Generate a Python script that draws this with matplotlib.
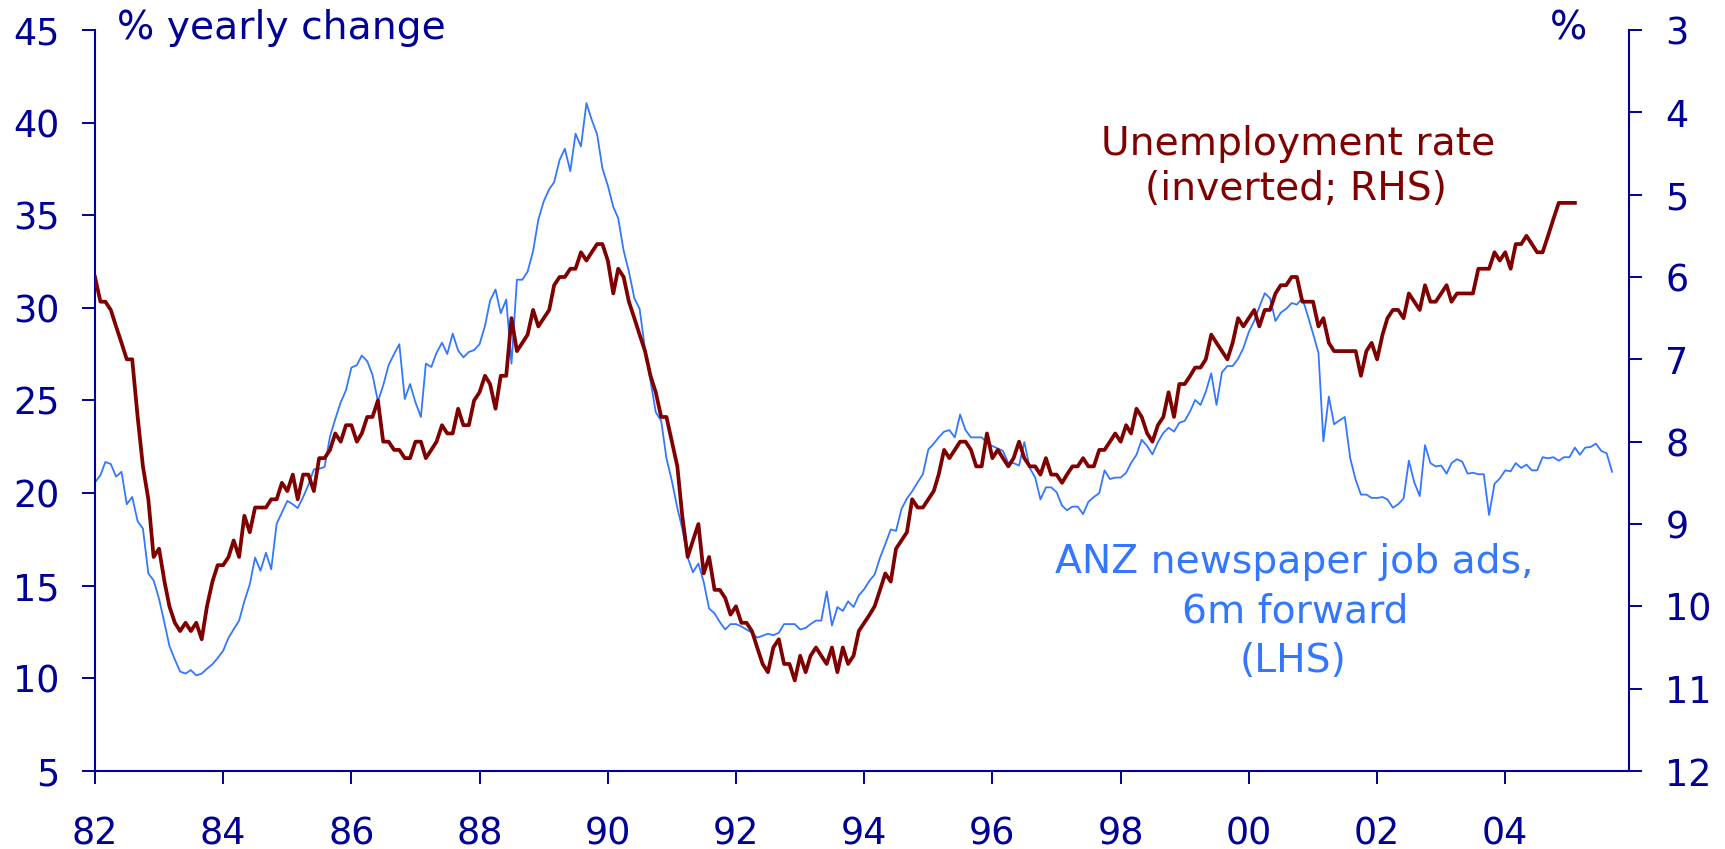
import numpy as np
import pandas as pd
import matplotlib
matplotlib.use("Agg")
import matplotlib.pyplot as plt
import matplotlib.dates as mdates

# ANZ newspaper job ads, % yearly change, 6m forward (LHS), monthly from Jan 1982
job_ads = [
    20.58, 20.97, 21.68, 21.57, 20.89, 21.15, 19.40, 19.79, 18.48, 18.09, 15.66, 15.29,
    14.29, 12.98, 11.75, 11.02, 10.37, 10.26, 10.45, 10.16, 10.26, 10.52, 10.76, 11.10,
    11.49, 12.20, 12.64, 13.12, 14.16, 15.08, 16.52, 15.81, 16.78, 15.89, 18.35, 18.95,
    19.58, 19.40, 19.19, 19.79, 20.45, 21.28, 21.31, 21.41, 23.06, 24.00, 24.90, 25.55,
    26.78, 26.91, 27.43, 27.12, 26.39, 24.95, 25.81, 26.91, 27.51, 28.04, 25.08, 25.89,
    24.90, 24.11, 26.99, 26.81, 27.57, 28.12, 27.51, 28.61, 27.70, 27.33, 27.62, 27.72,
    28.04, 29.03, 30.39, 30.99, 29.71, 30.45, 26.99, 31.52, 31.52, 31.96, 33.06, 34.76,
    35.76, 36.41, 36.78, 37.98, 38.59, 37.38, 39.40, 38.72, 41.05, 40.16, 39.37, 37.54,
    36.60, 35.45, 34.84, 33.09, 31.96, 30.52, 29.95, 27.77, 26.07, 24.37, 23.90, 21.88,
    20.65, 19.20, 18.09, 16.52, 15.73, 16.20, 15.21, 13.77, 13.51, 13.04, 12.64, 12.93,
    12.93, 12.80, 12.64, 12.46, 12.20, 12.30, 12.41, 12.33, 12.46, 12.93, 12.93, 12.93,
    12.64, 12.72, 12.93, 13.12, 13.12, 14.69, 12.85, 13.85, 13.64, 14.16, 13.85, 14.48,
    14.82, 15.29, 15.60, 16.52, 17.25, 18.04, 17.96, 19.14, 19.71, 20.10, 20.58, 21.02,
    22.36, 22.67, 23.01, 23.32, 23.40, 23.01, 24.24, 23.40, 23.01, 23.01, 23.01, 22.72,
    22.54, 22.41, 22.28, 21.62, 21.62, 21.49, 22.75, 21.36, 20.84, 19.66, 20.31, 20.31,
    20.05, 19.32, 19.08, 19.27, 19.27, 18.87, 19.53, 19.79, 20.00, 21.23, 20.76, 20.84,
    20.84, 21.10, 21.62, 22.07, 22.88, 22.54, 22.09, 22.75, 23.25, 23.53, 23.32, 23.80,
    23.90, 24.42, 25.03, 24.76, 25.47, 26.47, 24.76, 26.52, 26.86, 26.86, 27.25, 27.83,
    28.70, 29.30, 30.05, 30.79, 30.52, 29.29, 29.74, 29.95, 30.26, 30.18, 30.52, 29.61,
    28.61, 27.57, 22.80, 25.21, 23.72, 23.93, 24.11, 21.88, 20.71, 19.92, 19.92, 19.74,
    19.74, 19.79, 19.66, 19.21, 19.40, 19.71, 21.75, 20.58, 19.84, 22.59, 21.62, 21.44,
    21.49, 21.05, 21.62, 21.83, 21.70, 21.05, 21.10, 21.02, 21.02, 18.82, 20.50, 20.79,
    21.23, 21.18, 21.62, 21.36, 21.54, 21.23, 21.23, 21.94, 21.88, 21.94, 21.75, 21.94,
    21.94, 22.46, 22.07, 22.46, 22.49, 22.67, 22.28, 22.15, 21.15,
]

# Unemployment rate, % (RHS, inverted), monthly from Jan 1982
unemployment = [
    6.0, 6.3, 6.3, 6.4, 6.6, 6.8, 7.0, 7.0, 7.7, 8.3, 8.7, 9.4,
    9.3, 9.7, 10.0, 10.2, 10.3, 10.2, 10.3, 10.2, 10.4, 10.0, 9.7, 9.5,
    9.5, 9.4, 9.2, 9.4, 8.9, 9.1, 8.8, 8.8, 8.8, 8.7, 8.7, 8.5,
    8.6, 8.4, 8.7, 8.4, 8.4, 8.6, 8.2, 8.2, 8.1, 7.9, 8.0, 7.8,
    7.8, 8.0, 7.9, 7.7, 7.7, 7.5, 8.0, 8.0, 8.1, 8.1, 8.2, 8.2,
    8.0, 8.0, 8.2, 8.1, 8.0, 7.8, 7.9, 7.9, 7.6, 7.8, 7.8, 7.5,
    7.4, 7.2, 7.3, 7.6, 7.2, 7.2, 6.5, 6.9, 6.8, 6.7, 6.4, 6.6,
    6.5, 6.4, 6.1, 6.0, 6.0, 5.9, 5.9, 5.7, 5.8, 5.7, 5.6, 5.6,
    5.8, 6.2, 5.9, 6.0, 6.3, 6.5, 6.7, 6.9, 7.2, 7.4, 7.7, 7.7,
    8.0, 8.3, 8.9, 9.4, 9.2, 9.0, 9.6, 9.4, 9.8, 9.8, 9.9, 10.1,
    10.0, 10.2, 10.2, 10.3, 10.5, 10.7, 10.8, 10.5, 10.4, 10.7, 10.7, 10.9,
    10.6, 10.8, 10.6, 10.5, 10.6, 10.7, 10.5, 10.8, 10.5, 10.7, 10.6, 10.3,
    10.2, 10.1, 10.0, 9.8, 9.6, 9.7, 9.3, 9.2, 9.1, 8.7, 8.8, 8.8,
    8.7, 8.6, 8.4, 8.1, 8.2, 8.1, 8.0, 8.0, 8.1, 8.3, 8.3, 7.9,
    8.2, 8.1, 8.2, 8.3, 8.2, 8.0, 8.2, 8.3, 8.3, 8.4, 8.2, 8.4,
    8.4, 8.5, 8.4, 8.3, 8.3, 8.2, 8.3, 8.3, 8.1, 8.1, 8.0, 7.9,
    8.0, 7.8, 7.9, 7.6, 7.7, 7.9, 8.0, 7.8, 7.7, 7.4, 7.7, 7.3,
    7.3, 7.2, 7.1, 7.1, 7.0, 6.7, 6.8, 6.9, 7.0, 6.8, 6.5, 6.6,
    6.5, 6.4, 6.6, 6.4, 6.4, 6.2, 6.1, 6.1, 6.0, 6.0, 6.3, 6.3,
    6.3, 6.6, 6.5, 6.8, 6.9, 6.9, 6.9, 6.9, 6.9, 7.2, 6.9, 6.8,
    7.0, 6.7, 6.5, 6.4, 6.4, 6.5, 6.2, 6.3, 6.4, 6.1, 6.3, 6.3,
    6.2, 6.1, 6.3, 6.2, 6.2, 6.2, 6.2, 5.9, 5.9, 5.9, 5.7, 5.8,
    5.7, 5.9, 5.6, 5.6, 5.5, 5.6, 5.7, 5.7, 5.5, 5.3, 5.1, 5.1,
    5.1, 5.1,
]

tick_years = list(range(1982, 2005, 2))
tick_labels = ["82", "84", "86", "88", "90", "92", "94", "96", "98", "00", "02", "04"]
left_ticks = [5, 10, 15, 20, 25, 30, 35, 40, 45]
right_ticks = [3, 4, 5, 6, 7, 8, 9, 10, 11, 12]

dates_ads = pd.date_range("1982-01-01", periods=len(job_ads), freq="MS")
dates_un = pd.date_range("1982-01-01", periods=len(unemployment), freq="MS")

NAVY = "#000096"
MAROON = "#800000"
BLUE = "#3377FF"

plt.rcParams["font.family"] = ["DejaVu Sans"]

W, H = 1725, 849
fig = plt.figure(figsize=(W / 100, H / 100), dpi=100)
ax = fig.add_axes([95 / W, (H - 771) / H, (1629.3 - 95) / W, (771 - 30) / H])
ax2 = ax.twinx()

ax.plot(dates_ads, job_ads, color=BLUE, lw=1.3, zorder=2)
ax2.plot(dates_un, unemployment, color=MAROON, lw=2.7, zorder=3)

ax.set_ylim(5, 45)
ax.set_yticks(left_ticks)
ax2.set_ylim(12, 3)
ax2.set_yticks(right_ticks)

ax.set_xlim(pd.Timestamp("1982-01-01"), pd.Timestamp("2005-12-08"))
ax.set_xticks([pd.Timestamp(f"{y}-01-01") for y in tick_years])
ax.set_xticklabels(tick_labels)

for a in (ax, ax2):
    a.spines["top"].set_visible(False)
    for s in ("left", "right", "bottom"):
        a.spines[s].set_color(NAVY)
        a.spines[s].set_linewidth(1.5)
    a.tick_params(colors=NAVY, labelsize=26.3, length=9.7, width=1.4, direction="out")
    a.patch.set_visible(False)

ax.tick_params(axis="y", pad=15.8)
ax2.tick_params(axis="y", pad=16.3)
ax.tick_params(axis="x", pad=22.0)
ax.spines["right"].set_visible(False)
ax2.spines["left"].set_visible(False)
ax2.spines["bottom"].set_visible(False)

def fx(px):
    return px / W

def fy(py):
    return 1 - py / H

fs = 28.3
fig.text(fx(117), fy(39), "% yearly change", color=NAVY, fontsize=fs, ha="left", va="baseline")
fig.text(fx(1587), fy(39), "%", color=NAVY, fontsize=fs, ha="right", va="baseline")

fig.text(fx(1298), fy(155), "Unemployment rate", color=MAROON, fontsize=fs, ha="center", va="baseline")
fig.text(fx(1296), fy(200), "(inverted; RHS)", color=MAROON, fontsize=fs, ha="center", va="baseline")

fig.text(fx(1294), fy(573), "ANZ newspaper job ads,", color=BLUE, fontsize=fs, ha="center", va="baseline")
fig.text(fx(1295), fy(622.5), "6m forward", color=BLUE, fontsize=fs, ha="center", va="baseline")
fig.text(fx(1293), fy(672), "(LHS)", color=BLUE, fontsize=fs, ha="center", va="baseline")

fig.savefig("out.png", dpi=100)
